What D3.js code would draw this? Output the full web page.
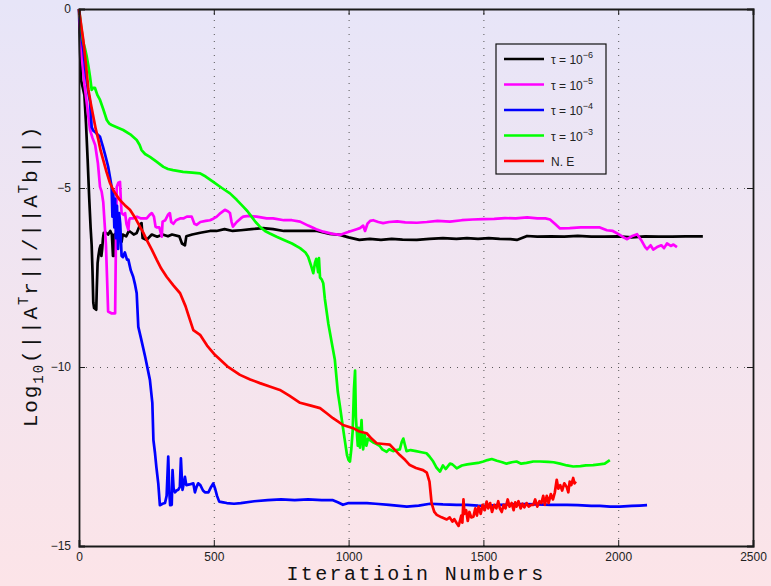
<!DOCTYPE html>
<html>
<head>
<meta charset="utf-8">
<script src="https://cdn.jsdelivr.net/npm/d3@7"></script>
<style>
  body { margin: 0; padding: 0; }
  .canvas svg { display: block; }
</style>
</head>
<body>
<div class="canvas"></div>
<script>
// DATA - [iteration, log10 residual]
const xTicks = [0, 500, 1000, 1500, 2000, 2500];
const yTicks = [0, -5, -10, -15];

const seriesNames = ['\u03c4 = 10', '\u03c4 = 10', '\u03c4 = 10', '\u03c4 = 10', 'N. E'];
const seriesExps = ['\u22126', '\u22125', '\u22124', '\u22123', ''];
const seriesColors = ['#000000', '#ff00ff', '#0000ff', '#00ff00', '#ff0000'];

const black = [
  [0,0],[4,-1.2],[8,-2.0],[14,-2.2],[20,-2.4],[26,-3.2],[32,-4.2],[38,-5.3],[43,-6.1],[47,-6.6],
  [50,-7.3],[53,-8.2],[56,-8.35],[64,-8.4],[66,-7.8],[69,-7.1],[72,-6.9],[76,-6.7],[80,-6.6],[83,-6.9],
  [86,-6.7],[89,-6.4],[92,-6.25],[100,-6.25],[108,-6.3],[116,-6.2],[122,-6.3],[126,-6.9],[129,-6.9],[131,-6.3],
  [140,-6.25],[150,-6.3],[158,-6.5],[162,-6.3],[175,-6.35],[185,-6.2],[195,-6.25],[203,-6.3],[214,-6.26],[228,-6.0],
  [232,-5.98],[236,-6.4],[251,-6.45],[270,-6.3],[290,-6.36],[310,-6.3],[330,-6.35],[345,-6.3],[372,-6.35],[382,-6.55],
  [393,-6.6],[398,-6.35],[420,-6.3],[450,-6.25],[486,-6.2],[510,-6.2],[540,-6.15],[570,-6.2],[600,-6.18],[640,-6.15],
  [683,-6.12],[720,-6.15],[760,-6.2],[800,-6.2],[850,-6.2],[883,-6.2],[930,-6.28],[968,-6.31],[1000,-6.38],[1040,-6.45],
  [1079,-6.42],[1120,-6.45],[1160,-6.42],[1200,-6.44],[1253,-6.45],[1300,-6.42],[1350,-6.4],[1400,-6.42],[1439,-6.4],[1480,-6.42],
  [1520,-6.4],[1560,-6.42],[1600,-6.43],[1624,-6.45],[1662,-6.34],[1700,-6.36],[1750,-6.35],[1800,-6.36],[1850,-6.34],[1900,-6.36],
  [1950,-6.36],[2000,-6.35],[2050,-6.38],[2100,-6.35],[2150,-6.36],[2200,-6.36],[2250,-6.35],[2314,-6.35]
];

const magenta = [
  [0,0],[10,-1.3],[20,-2.1],[30,-2.7],[41,-3.38],[50,-3.6],[60,-3.8],[70,-4.3],[78,-4.97],[84,-5.1],
  [90,-5.4],[96,-6.1],[100,-6.6],[104,-7.5],[108,-8.45],[120,-8.5],[134,-8.5],[137,-6.5],[140,-4.97],[146,-4.85],
  [152,-4.83],[155,-5.3],[158,-5.7],[165,-5.75],[171,-5.7],[176,-6.0],[183,-6.17],[186,-5.9],[189,-5.85],[200,-5.85],
  [215,-5.8],[230,-5.85],[251,-5.85],[262,-5.75],[270,-5.7],[278,-5.8],[284,-6.08],[288,-6.1],[298,-6.1],[307,-6.36],
  [310,-5.94],[320,-5.9],[330,-5.75],[337,-5.7],[342,-5.95],[350,-6.0],[360,-5.9],[375,-5.85],[387,-5.85],[400,-5.8],
  [418,-5.8],[428,-6.0],[436,-6.03],[450,-5.95],[470,-5.92],[486,-5.9],[500,-5.85],[511,-5.8],[525,-5.7],[541,-5.61],
  [552,-5.65],[560,-5.7],[566,-5.95],[571,-6.08],[585,-5.95],[600,-5.85],[609,-5.8],[630,-5.78],[659,-5.8],[696,-5.85],
  [720,-5.85],[760,-5.9],[790,-5.9],[820,-5.94],[850,-6.05],[880,-6.15],[906,-6.22],[940,-6.28],[968,-6.31],[990,-6.25],
  [1010,-6.2],[1030,-6.15],[1042,-6.12],[1054,-6.05],[1061,-6.2],[1070,-6.0],[1080,-5.92],[1091,-5.9],[1110,-5.95],[1128,-5.98],
  [1150,-5.95],[1180,-5.93],[1210,-5.96],[1253,-5.97],[1290,-5.95],[1330,-5.92],[1376,-5.94],[1420,-5.9],[1460,-5.88],[1500,-5.87],
  [1540,-5.86],[1580,-5.84],[1620,-5.85],[1662,-5.82],[1700,-5.85],[1730,-5.85],[1747,-5.88],[1765,-6.0],[1784,-6.13],[1820,-6.12],
  [1860,-6.1],[1900,-6.1],[1932,-6.1],[1958,-6.18],[1980,-6.2],[2006,-6.31],[2020,-6.38],[2033,-6.43],[2050,-6.35],[2070,-6.29],
  [2085,-6.45],[2100,-6.65],[2107,-6.71],[2120,-6.6],[2130,-6.72],[2144,-6.65],[2160,-6.6],[2170,-6.68],[2181,-6.55],[2195,-6.62],
  [2205,-6.58],[2218,-6.65]
];

const blue = [
  [0,0],[8,-0.7],[16,-1.15],[25,-1.8],[35,-2.35],[41,-2.6],[47,-3.3],[53,-3.4],[59,-3.43],[68,-3.5],
  [78,-3.57],[89,-3.85],[98,-4.1],[108,-4.4],[115,-4.7],[121,-4.97],[124,-5.8],[127,-5.1],[131,-6.1],[134,-5.3],
  [137,-6.4],[141,-5.5],[145,-6.7],[149,-5.7],[153,-6.0],[158,-6.9],[163,-6.93],[170,-6.8],[178,-7.0],[183,-7.0],
  [192,-7.3],[201,-7.48],[208,-7.7],[214,-7.94],[220,-8.88],[230,-9.2],[245,-9.7],[263,-10.36],[272,-11.0],[276,-12.04],
  [282,-12.41],[287,-12.8],[294,-13.25],[300,-13.86],[310,-13.82],[319,-13.8],[325,-13.6],[331,-12.5],[335,-13.5],[338,-13.86],
  [344,-13.85],[347,-12.88],[351,-13.4],[356,-13.5],[362,-13.45],[368,-13.43],[374,-13.35],[378,-12.55],[382,-13.2],[384,-13.43],
  [390,-13.2],[393,-13.07],[398,-13.3],[410,-13.28],[424,-13.25],[430,-13.5],[436,-13.35],[442,-13.25],[450,-13.3],[460,-13.45],
  [467,-13.5],[480,-13.5],[490,-13.35],[498,-13.25],[505,-13.4],[512,-13.6],[520,-13.76],[535,-13.78],[548,-13.8],[575,-13.82],
  [600,-13.8],[650,-13.75],[700,-13.72],[750,-13.7],[800,-13.72],[850,-13.7],[900,-13.72],[942,-13.72],[960,-13.78],[979,-13.85],
  [1000,-13.8],[1030,-13.8],[1068,-13.8],[1100,-13.82],[1150,-13.85],[1216,-13.9],[1260,-13.87],[1302,-13.82],[1350,-13.84],[1400,-13.85],
  [1439,-13.85],[1480,-13.87],[1513,-13.88],[1560,-13.85],[1600,-13.84],[1650,-13.83],[1700,-13.84],[1750,-13.85],[1810,-13.85],[1850,-13.86],
  [1900,-13.88],[1932,-13.88],[1970,-13.9],[2006,-13.9],[2050,-13.88],[2080,-13.87],[2107,-13.86]
];

const green = [
  [0,0],[8,-0.5],[15,-0.9],[22,-1.1],[28,-1.3],[35,-1.6],[41,-1.9],[47,-2.26],[53,-2.2],[59,-2.2],
  [68,-2.4],[78,-2.54],[90,-2.8],[103,-3.1],[112,-3.2],[121,-3.24],[140,-3.3],[164,-3.38],[190,-3.5],[214,-3.66],
  [225,-3.8],[232,-3.94],[245,-4.05],[263,-4.13],[285,-4.25],[313,-4.41],[330,-4.47],[349,-4.5],[386,-4.55],[420,-4.57],
  [449,-4.59],[470,-4.68],[498,-4.83],[530,-5.0],[560,-5.15],[585,-5.33],[609,-5.52],[625,-5.65],[640,-5.8],[655,-5.95],
  [671,-6.08],[690,-6.2],[708,-6.27],[733,-6.36],[760,-6.45],[790,-6.55],[820,-6.68],[840,-6.8],[850,-6.92],[860,-7.15],
  [869,-7.38],[875,-7.1],[880,-6.98],[887,-7.35],[890,-6.96],[894,-7.5],[900,-7.55],[906,-7.66],[912,-8.1],[925,-8.8],
  [937,-9.3],[949,-9.8],[960,-10.7],[968,-11.1],[975,-11.48],[985,-12.0],[994,-12.46],[1000,-12.6],[1005,-12.64],[1010,-12.3],
  [1015,-11.8],[1020,-10.6],[1024,-10.1],[1027,-11.4],[1030,-11.76],[1034,-12.2],[1038,-11.7],[1042,-12.25],[1048,-11.48],[1051,-12.0],
  [1054,-12.3],[1060,-11.9],[1066,-12.2],[1072,-12.0],[1079,-12.04],[1090,-12.1],[1104,-12.15],[1115,-12.2],[1125,-12.3],[1141,-12.37],
  [1150,-12.3],[1165,-12.35],[1178,-12.32],[1190,-12.3],[1197,-12.1],[1203,-12.0],[1208,-12.15],[1215,-12.35],[1230,-12.32],[1250,-12.35],
  [1270,-12.38],[1289,-12.41],[1300,-12.5],[1314,-12.64],[1325,-12.8],[1339,-12.92],[1350,-12.75],[1360,-12.85],[1376,-12.7],[1385,-12.72],
  [1401,-12.83],[1420,-12.75],[1440,-12.72],[1460,-12.7],[1480,-12.68],[1500,-12.64],[1515,-12.6],[1531,-12.57],[1550,-12.62],[1570,-12.66],
  [1586,-12.7],[1605,-12.66],[1623,-12.64],[1640,-12.7],[1660,-12.68],[1685,-12.64],[1710,-12.64],[1740,-12.65],[1760,-12.66],[1784,-12.7],
  [1810,-12.75],[1833,-12.78],[1860,-12.77],[1880,-12.75],[1907,-12.74],[1930,-12.72],[1950,-12.7],[1969,-12.6]
];

const red = [
  [0,0],[8,-0.45],[16,-0.87],[25,-1.5],[35,-2.26],[44,-2.65],[53,-3.0],[62,-3.35],[72,-3.66],[80,-3.95],
  [90,-4.22],[102,-4.55],[115,-4.86],[130,-5.1],[152,-5.34],[170,-5.48],[189,-5.61],[208,-5.83],[226,-6.08],[240,-6.27],
  [251,-6.45],[270,-6.72],[288,-7.0],[305,-7.25],[325,-7.48],[350,-7.72],[375,-7.94],[395,-8.3],[410,-8.65],[424,-8.97],
  [449,-9.1],[475,-9.4],[504,-9.66],[550,-9.98],[597,-10.22],[635,-10.35],[671,-10.45],[710,-10.55],[745,-10.64],[780,-10.8],
  [820,-11.0],[860,-11.08],[894,-11.15],[920,-11.3],[942,-11.43],[960,-11.52],[979,-11.62],[1020,-11.72],[1040,-11.8],[1067,-11.85],
  [1085,-12.0],[1104,-12.13],[1130,-12.15],[1153,-12.17],[1170,-12.3],[1190,-12.46],[1210,-12.6],[1227,-12.74],[1250,-12.82],[1276,-12.88],
  [1290,-12.95],[1300,-13.2],[1308,-13.81],[1318,-14.05],[1327,-14.13],[1345,-14.2],[1364,-14.26],[1375,-14.2],[1385,-14.32],[1392,-14.25],
  [1400,-14.35],[1408,-14.44],[1413,-14.3],[1418,-14.15],[1422,-14.35],[1426,-13.7],[1430,-14.1],[1436,-14.0],[1442,-14.3],[1448,-14.05],
  [1455,-14.2],[1463,-14.18],[1470,-13.95],[1476,-14.15],[1482,-13.9],[1490,-14.1],[1497,-13.85],[1505,-14.0],[1512,-13.76],[1518,-13.95],
  [1525,-13.8],[1532,-14.05],[1540,-13.85],[1548,-13.95],[1555,-13.75],[1561,-13.95],[1568,-14.05],[1575,-13.85],[1582,-13.95],[1590,-13.7],
  [1597,-13.9],[1605,-13.8],[1612,-14.0],[1618,-13.78],[1623,-13.9],[1630,-13.75],[1638,-13.95],[1645,-13.82],[1652,-13.92],[1660,-13.8],
  [1668,-13.9],[1677,-13.85],[1685,-13.85],[1692,-13.7],[1700,-13.9],[1708,-13.75],[1715,-13.8],[1722,-13.6],[1728,-13.85],[1735,-13.6],
  [1742,-13.8],[1750,-13.55],[1758,-13.7],[1765,-13.5],[1772,-13.15],[1778,-13.4],[1785,-13.3],[1792,-13.45],[1800,-13.25],[1809,-13.35],
  [1815,-13.5],[1820,-13.2],[1826,-13.3],[1833,-13.1],[1838,-13.25],[1843,-13.2]
];

const allSeries = [black, magenta, blue, green, red];

/*** SETUP ***/
const svgWidth = 771;
const svgHeight = 586;

const margin = { top: 9, right: 18, bottom: 40, left: 79 };
const graphWidth = svgWidth - margin.left - margin.right;
const graphHeight = svgHeight - margin.top - margin.bottom;

const svg = d3.select('.canvas')
  .append('svg')
  .attr('width', svgWidth)
  .attr('height', svgHeight);

// lavender to pink figure background
const grad = svg.append('defs').append('linearGradient')
  .attr('id', 'bg')
  .attr('x1', 0).attr('y1', 0).attr('x2', 0).attr('y2', 1);
grad.append('stop').attr('offset', '0%').attr('stop-color', '#e7e5f8');
grad.append('stop').attr('offset', '100%').attr('stop-color', '#fce4e8');

svg.append('rect')
  .attr('width', svgWidth)
  .attr('height', svgHeight)
  .attr('fill', 'url(#bg)');

const graph = svg.append('g')
  .attr('transform', `translate(${margin.left}, ${margin.top})`);

// SCALES
const x = d3.scaleLinear().domain([0, 2500]).range([0, graphWidth]);
const y = d3.scaleLinear().domain([-15, 0]).range([graphHeight, 0]);

// grid (dotted)
const xGrid = graph.append('g')
  .attr('transform', `translate(0, ${graphHeight})`)
  .call(d3.axisBottom(x).tickValues(xTicks.slice(1, -1)).tickSize(-graphHeight).tickFormat(''));
const yGrid = graph.append('g')
  .call(d3.axisLeft(y).tickValues(yTicks.slice(1, -1)).tickSize(-graphWidth).tickFormat(''));
[xGrid, yGrid].forEach(g => {
  g.select('.domain').remove();
  g.selectAll('line')
    .attr('stroke', '#555')
    .attr('stroke-width', 1)
    .attr('stroke-dasharray', '1,6');
});

// lines
const line = d3.line()
  .x(d => x(d[0]))
  .y(d => y(d[1]));

graph.selectAll('path.series')
  .data(allSeries)
  .enter()
  .append('path')
    .attr('class', 'series')
    .attr('d', line)
    .attr('fill', 'none')
    .attr('stroke', (d, i) => seriesColors[i])
    .attr('stroke-width', 2.7)
    .attr('stroke-linejoin', 'round');

// axes - ticks point inwards like matlab
const xAxis = d3.axisBottom(x).tickValues(xTicks).tickSize(-6).tickPadding(6)
  .tickFormat(d3.format('d'));
const yAxis = d3.axisLeft(y).tickValues(yTicks).tickSize(-6).tickPadding(8)
  .tickFormat(d => d === 0 ? '0' : '\u2212' + Math.abs(d));

const xAxisGroup = graph.append('g')
  .attr('transform', `translate(0, ${graphHeight})`)
  .call(xAxis);
const yAxisGroup = graph.append('g').call(yAxis);
const topAxis = graph.append('g')
  .call(d3.axisTop(x).tickValues(xTicks).tickSize(-6).tickFormat(''));
const rightAxis = graph.append('g')
  .attr('transform', `translate(${graphWidth}, 0)`)
  .call(d3.axisRight(y).tickValues(yTicks).tickSize(-6).tickFormat(''));

[xAxisGroup, yAxisGroup, topAxis, rightAxis].forEach(g => {
  g.select('.domain').attr('stroke', '#1a1a1a').attr('stroke-width', 1.8);
  g.selectAll('.tick line').attr('stroke', '#1a1a1a').attr('stroke-width', 1);
  g.selectAll('text')
    .attr('fill', '#222')
    .style('font-family', '"Liberation Sans", Arial, sans-serif')
    .style('font-size', '12px');
});

// labels
const labelFont = '"Liberation Mono", "Courier New", monospace';

svg.append('text')
  .attr('x', 416)
  .attr('y', 580)
  .attr('text-anchor', 'middle')
  .attr('fill', '#111')
  .style('font-family', labelFont)
  .style('font-size', '20px')
  .style('letter-spacing', '2.4px')
  .text('Iteratioin Numbers');

const yLabel = svg.append('text')
  .attr('transform', 'translate(37, 276) rotate(-90)')
  .attr('text-anchor', 'middle')
  .attr('fill', '#111')
  .style('font-family', labelFont)
  .style('font-size', '21px')
  .style('letter-spacing', '1.9px');
yLabel.append('tspan').text('Log');
yLabel.append('tspan').attr('dy', 6).style('font-size', '14px').text('10');
yLabel.append('tspan').attr('dy', -6).text('(||A');
yLabel.append('tspan').attr('dy', -9).style('font-size', '14px').text('T');
yLabel.append('tspan').attr('dy', 9).text('r||/||A');
yLabel.append('tspan').attr('dy', -9).style('font-size', '14px').text('T');
yLabel.append('tspan').attr('dy', 9).text('b||)');

// legend
const legend = svg.append('g').attr('transform', 'translate(496, 44)');
legend.append('rect')
  .attr('width', 110)
  .attr('height', 130)
  .attr('fill', 'none')
  .attr('stroke', '#111')
  .attr('stroke-width', 1.2);

const items = legend.selectAll('g.item')
  .data(seriesNames)
  .enter()
  .append('g')
    .attr('class', 'item')
    .attr('transform', (d, i) => `translate(0, ${15 + i * 25.5})`);

items.append('line')
  .attr('x1', 8).attr('x2', 48)
  .attr('stroke', (d, i) => seriesColors[i])
  .attr('stroke-width', 2.6);

const itemText = items.append('text')
  .attr('x', 55)
  .attr('y', 5)
  .attr('fill', '#222')
  .style('font-family', '"Liberation Sans", Arial, sans-serif')
  .style('font-size', '12px');
itemText.append('tspan').text(d => d);
itemText.append('tspan')
  .attr('dy', -6)
  .style('font-size', '9px')
  .text((d, i) => seriesExps[i]);
</script>
</body>
</html>
